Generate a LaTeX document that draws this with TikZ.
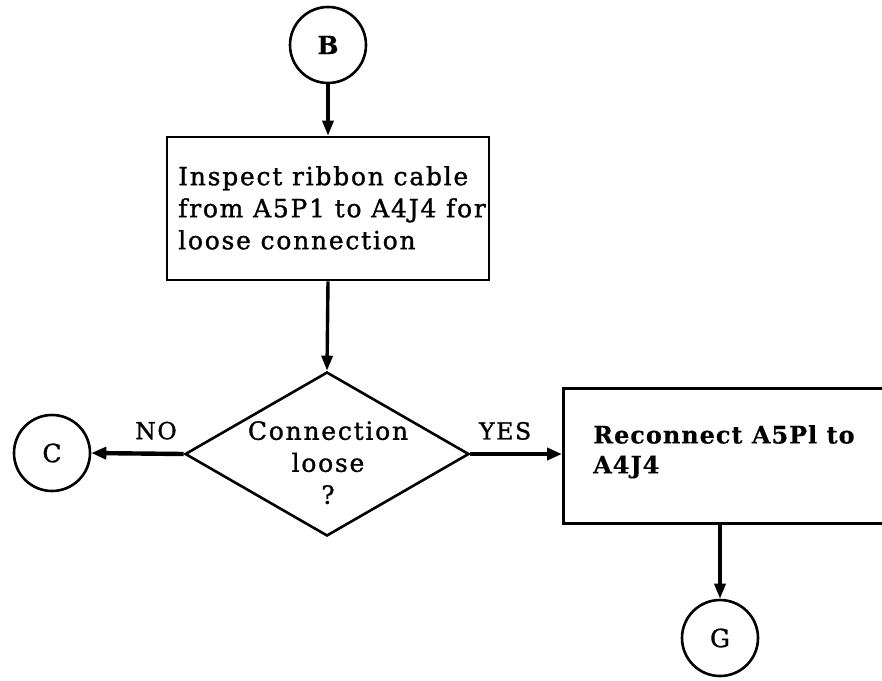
\documentclass[tikz,border=0pt]{standalone}
\usepackage{fontspec}
\setmainfont{DejaVu Serif}[LetterSpace=7, FakeBold=1.2, BoldFeatures={FakeBold=0.3}]
\usetikzlibrary{arrows.meta,shapes.geometric}

\tikzset{
  conn/.style={draw, circle, line width=2.6pt, minimum size=76pt, inner sep=0pt,
    font=\fontsize{25}{28}\selectfont},
  stepbox/.style={draw, rectangle, line width=2.6pt, inner sep=0pt},
  decbox/.style={draw, diamond, line width=2.6pt, inner sep=0pt, aspect=1.73,
    minimum width=284pt, minimum height=164pt},
  body/.style={inner sep=0pt, font=\fontsize{25}{32}\selectfont},
  flow/.style={line width=3.4pt, -{Triangle[length=15pt,width=11pt]}},
  branch/.style={line width=4.4pt, -{Triangle[length=15pt,width=12pt]}},
  tag/.style={inner sep=0pt, font=\fontsize{23.5}{25}\selectfont}
}

\begin{document}
\begin{tikzpicture}[x=1pt,y=-1pt]
  \clip (0,0) rectangle (882,680);

  % off-page connectors
  \node[conn] (B) at (328,45) {\bfseries B};
  \node[conn] (C) at (52,453) {C};
  \node[conn] (G) at (720,638) {G};

  % inspection step
  \node[stepbox, minimum width=322pt, minimum height=143pt] (inspect) at (328,208.5) {};
  \node[body, align=left, anchor=north west] (inspecttext) at (178,166)
    {Inspect ribbon cable\\from A5P1 to A4J4 for\\loose connection};

  % decision
  \node[decbox] (dec) at (327,454) {};
  \node[body, align=center, anchor=north] (dectext) at (328,421)
    {Connection\\loose\\?};

  % repair step, running past the right edge
  \node[stepbox, minimum width=360pt, minimum height=135pt, anchor=north west]
    (repair) at (562,387) {};
  \node[body, align=left, anchor=north west,
    font=\fontsize{24}{30}\selectfont\addfontfeature{LetterSpace=4}]
    (repairtext) at (593,425)
    {\bfseries Reconnect A5Pl to\\\bfseries A4J4};
  \coordinate (repairout) at (720,522);

  % connectors
  \draw[flow] (B.south) -- (inspect.north);
  \draw[flow] (inspect.south) -- (dec.north);
  \draw[branch] (dec.west) -- (C.east) node[tag, pos=0.3, above=12pt] (no) {NO};
  \draw[branch] (dec.east) -- (repair.west |- dec.east) node[tag, pos=0.38, above=12pt] (yes) {YES};
  \draw[flow] (repairout) -- (G.north);
\end{tikzpicture}
\end{document}
